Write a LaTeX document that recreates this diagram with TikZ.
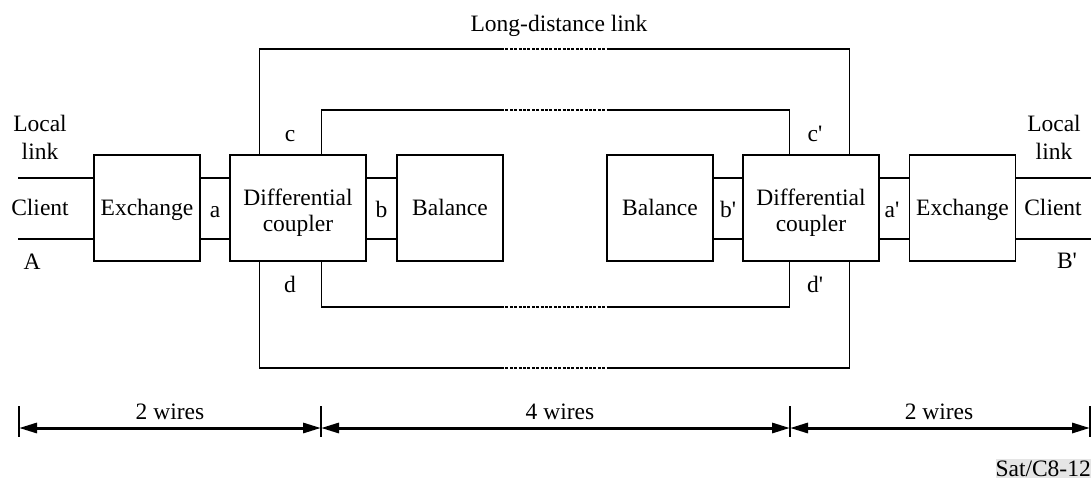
\documentclass[tikz,border=0pt]{standalone}
\usepackage{fontspec}
\setmainfont{Liberation Serif}[Ligatures=TeXOff]
\usetikzlibrary{arrows.meta,calc}
\begin{document}
\begin{tikzpicture}[x=1pt,y=-1pt,
  box/.style={draw, line width=1.2pt, minimum height=106pt, inner sep=0pt},
  txt/.style={font=\fontsize{23.5}{26}\selectfont, inner sep=0pt, anchor=base},
  wire/.style={line width=1.2pt},
  dotwire/.style={line width=1.5pt, dash pattern=on 3pt off 1.4pt},
  dimline/.style={line width=3pt, {Triangle[length=18pt,width=10pt]}-{Triangle[length=18pt,width=10pt]}},
  tickline/.style={line width=2pt}]
\useasboundingbox (0,0) rectangle (1091,479);

% boxes
\node[box, minimum width=106pt] (exL) at (147,208) {};
\node[box, minimum width=136pt] (dcL) at (298,208) {};
\node[box, minimum width=106pt] (baL) at (450,208) {};
\node[box, minimum width=106pt] (baR) at (660,208) {};
\node[box, minimum width=136pt] (dcR) at (811,208) {};
\node[box, minimum width=106pt] (exR) at (962.5,208) {};

% free ends of local links
\coordinate (LLt) at (18,178);
\coordinate (LLb) at (18,239);
\coordinate (LRt) at (1091,178);
\coordinate (LRb) at (1091,239);

% two-wire connections
\draw[wire] (LLt) -- (LLt -| exL.west);
\draw[wire] (LLb) -- (LLb -| exL.west);
\draw[wire] (LLt -| exL.east) -- (LLt -| dcL.west);
\draw[wire] (LLb -| exL.east) -- (LLb -| dcL.west);
\draw[wire] (LLt -| dcL.east) -- (LLt -| baL.west);
\draw[wire] (LLb -| dcL.east) -- (LLb -| baL.west);
\draw[wire] (LRt -| baR.east) -- (LRt -| dcR.west);
\draw[wire] (LRb -| baR.east) -- (LRb -| dcR.west);
\draw[wire] (LRt -| dcR.east) -- (LRt -| exR.west);
\draw[wire] (LRb -| dcR.east) -- (LRb -| exR.west);
\draw[wire] (LRt -| exR.east) -- (LRt);
\draw[wire] (LRb -| exR.east) -- (LRb);

% long-distance four-wire loops
\coordinate (ot1) at (501,49);  \coordinate (ot2) at (609,49);
\coordinate (it1) at (501,110); \coordinate (it2) at (609,110);
\coordinate (ib1) at (501,307); \coordinate (ib2) at (609,307);
\coordinate (ob1) at (501,368); \coordinate (ob2) at (609,368);

\draw[wire] ($(dcL.north west)+(30,0)$) |- (ot1);
\draw[dotwire] (ot1) -- (ot2);
\draw[wire] (ot2) -| ($(dcR.north east)+(-30,0)$);

\draw[wire] ($(dcL.north east)+(-45,0)$) |- (it1);
\draw[dotwire] (it1) -- (it2);
\draw[wire] (it2) -| ($(dcR.north west)+(47,0)$);

\draw[wire] ($(dcL.south east)+(-45,0)$) |- (ib1);
\draw[dotwire] (ib1) -- (ib2);
\draw[wire] (ib2) -| ($(dcR.south west)+(47,0)$);

\draw[wire] ($(dcL.south west)+(30,0)$) |- (ob1);
\draw[dotwire] (ob1) -- (ob2);
\draw[wire] (ob2) -| ($(dcR.south east)+(-30,0)$);

% labels
\node[txt] (ldl) at (559,31) {Long-distance link};
\node[txt] (locL1) at (40,131) {Local};
\node[txt] (locL2) at (40,159) {link};
\node[txt] (cliL) at (40,215) {Client};
\node[txt] (labA) at (32,269) {A};
\node[txt] (exLt) at (exL.center |- 0,215) {Exchange};
\node[txt] (laba) at (215,217) {a};
\node[txt] (labc) at (290,141) {c};
\node[txt] (labd) at (290,292) {d};
\node[txt] (dcLt1) at (dcL.center |- 0,205) {Differential};
\node[txt] (dcLt2) at (dcL.center |- 0,231) {coupler};
\node[txt] (labb) at (381.5,217) {b};
\node[txt] (baLt) at (baL.center |- 0,215) {Balance};

\node[txt] (baRt) at (baR.center |- 0,215) {Balance};
\node[txt] (labbp) at (728,217) {b'};
\node[txt] (dcRt1) at (dcR.center |- 0,205) {Differential};
\node[txt] (dcRt2) at (dcR.center |- 0,231) {coupler};
\node[txt] (labcp) at (815,141) {c'};
\node[txt] (labdp) at (815,292) {d'};
\node[txt] (labap) at (892,217) {a'};
\node[txt] (exRt) at (exR.center |- 0,215) {Exchange};
\node[txt] (cliR) at (1053,215) {Client};
\node[txt] (locR1) at (1054,131) {Local};
\node[txt] (locR2) at (1054,159) {link};
\node[txt] (labB) at (1067,268) {B'};

% dimension lines
\coordinate (t1) at (19,428);
\coordinate (t2) at (321,428);
\coordinate (t3) at (790,428);
\coordinate (t4) at (1090,428);
\foreach \t in {t1,t2,t3,t4}
  \draw[tickline] ($(\t)+(0,-22)$) -- ($(\t)+(0,9)$);
\draw[dimline] (t1) -- (t2);
\draw[dimline] (t2) -- (t3);
\draw[dimline] (t3) -- (t4);
\node[txt] (w1) at (170,419) {2 wires};
\node[txt] (w2) at (560,419) {4 wires};
\node[txt] (w3) at (939,419) {2 wires};

\node[txt, anchor=base east, fill=black!10, inner ysep=1.5pt] (sat) at (1091,476) {Sat/C8-12};
\end{tikzpicture}
\end{document}
